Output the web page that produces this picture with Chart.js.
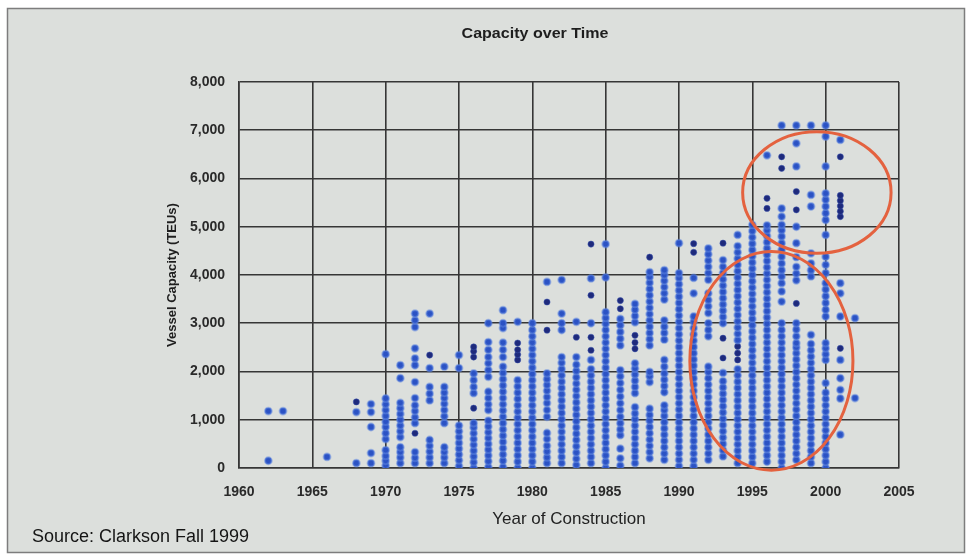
<!DOCTYPE html>
<html><head><meta charset="utf-8">
<script src="https://cdn.jsdelivr.net/npm/chart.js@4"></script>
<style>html,body{margin:0;padding:0;background:#fff;}canvas{display:block}</style>
</head><body>
<canvas id="c" width="973" height="558"></canvas>
<script>
// ---- Data: vessel capacity (TEU) by year of construction ----
const cap1962 = [150, 1180];
const cap1963 = [1180];
const cap1966 = [230];
const cap1968 = [100, 1160];
const cap1969 = [100, 310, 850, 1160, 1325];
const cap1970 = [50, 150, 250, 370, 600, 720, 850, 960, 1080, 1200, 1320, 1440, 2360];
const cap1971 = [100, 220, 330, 430, 640, 760, 880, 1000, 1120, 1240, 1350, 1860, 2130];
const cap1972 = [100, 210, 330, 930, 1050, 1180, 1300, 1450, 1780, 2130, 2270, 2480, 2920, 3060, 3200];
const cap1973 = [100, 220, 340, 460, 580, 1400, 1540, 1680, 2070, 3200];
const cap1974 = [100, 220, 330, 430, 930, 1070, 1200, 1330, 1450, 1560, 1680, 2100];
const cap1975 = [40, 160, 280, 400, 520, 640, 760, 880, 2070, 2340];
const cap1976 = [0, 120, 240, 360, 480, 600, 720, 840, 930, 1550, 1680, 1820, 1960];
const cap1977 = [20, 140, 260, 380, 500, 620, 740, 860, 980, 1200, 1320, 1450, 1580, 1890, 2030, 2170, 2300, 2450, 2610, 3000];
const cap1978 = [20, 150, 280, 410, 540, 670, 800, 930, 1060, 1190, 1320, 1450, 1580, 1710, 1840, 1970, 2100, 2300, 2450, 2600, 2900, 3000, 3270];
const cap1979 = [0, 130, 260, 390, 520, 650, 780, 910, 1040, 1170, 1300, 1430, 1560, 1690, 1820, 3030];
const cap1980 = [0, 130, 260, 390, 520, 650, 780, 910, 1040, 1170, 1300, 1430, 1560, 1690, 1820, 1950, 2080, 2210, 2340, 2470, 2600, 2730, 2860, 3000];
const cap1981 = [100, 220, 340, 460, 600, 725, 1060, 1200, 1345, 1470, 1600, 1720, 1840, 1960, 3856];
const cap1982 = [100, 230, 360, 490, 620, 750, 880, 1010, 1140, 1270, 1400, 1530, 1660, 1790, 1920, 2050, 2180, 2300, 2860, 3000, 3200, 3900];
const cap1983 = [60, 190, 320, 450, 580, 710, 840, 970, 1100, 1230, 1360, 1490, 1620, 1750, 1880, 2010, 2140, 2300, 3030];
const cap1984 = [100, 230, 360, 490, 620, 750, 880, 1010, 1140, 1270, 1400, 1530, 1660, 1790, 1920, 2050, 2240, 3000, 3930];
const cap1985 = [0, 130, 260, 390, 520, 650, 780, 910, 1040, 1170, 1300, 1430, 1560, 1690, 1820, 1950, 2080, 2210, 2340, 2470, 2600, 2730, 2860, 2990, 3110, 3230, 3950, 4640];
const cap1986 = [50, 200, 400, 680, 800, 930, 1060, 1200, 1340, 1480, 1620, 1760, 1900, 2030, 2540, 2680, 2820, 2960, 3090];
const cap1987 = [100, 230, 360, 490, 620, 750, 880, 1010, 1130, 1260, 1550, 1680, 1810, 1940, 2060, 2170, 3020, 3150, 3280, 3400];
const cap1988 = [200, 330, 460, 590, 720, 850, 980, 1100, 1230, 1780, 1900, 1990, 2540, 2670, 2800, 2930, 3060, 3190, 3320, 3450, 3580, 3710, 3840, 3960, 4060];
const cap1989 = [170, 300, 430, 560, 690, 820, 950, 1080, 1200, 1300, 1570, 1700, 1830, 1960, 2100, 2240, 2660, 2800, 2930, 3060, 3490, 3620, 3750, 3880, 4000, 4100];
const cap1990 = [40, 170, 300, 430, 560, 690, 820, 950, 1080, 1210, 1340, 1470, 1600, 1730, 1860, 1990, 2120, 2250, 2380, 2510, 2640, 2770, 2900, 3030, 3160, 3290, 3420, 3550, 3680, 3810, 3940, 4040, 4660];
const cap1991 = [40, 170, 300, 430, 560, 690, 820, 950, 1080, 1210, 1340, 1470, 1600, 1730, 1860, 1990, 2120, 2250, 2380, 2510, 2640, 2770, 2900, 3030, 3140, 3620, 3940];
const cap1992 = [170, 300, 430, 560, 690, 820, 950, 1080, 1210, 1340, 1470, 1600, 1730, 1860, 1990, 2100, 2730, 2860, 3000, 3210, 3350, 3480, 3620, 3900, 4040, 4170, 4300, 4430, 4550];
const cap1993 = [240, 370, 500, 630, 760, 890, 1020, 1150, 1280, 1410, 1540, 1670, 1800, 1970, 3000, 3130, 3260, 3390, 3520, 3650, 3780, 3910, 4040, 4170, 4310];
const cap1994 = [100, 230, 360, 490, 620, 750, 880, 1010, 1140, 1270, 1400, 1530, 1660, 1790, 1920, 2050, 2650, 2780, 2910, 3040, 3170, 3300, 3430, 3560, 3690, 3820, 3950, 4080, 4210, 4340, 4470, 4600, 4830];
const cap1995 = [100, 230, 360, 490, 620, 750, 880, 1010, 1140, 1270, 1400, 1530, 1660, 1790, 1920, 2050, 2180, 2310, 2440, 2570, 2700, 2830, 2960, 3090, 3220, 3350, 3480, 3610, 3740, 3870, 4000, 4130, 4260, 4390, 4520, 4650, 4780, 4910, 5040];
const cap1996 = [130, 260, 390, 520, 650, 780, 910, 1040, 1170, 1300, 1430, 1560, 1690, 1820, 1950, 2080, 2210, 2340, 2470, 2600, 2730, 2860, 2990, 3120, 3250, 3380, 3510, 3640, 3770, 3900, 4030, 4160, 4290, 4420, 4550, 4680, 4810, 4930, 5030, 6480];
const cap1997 = [0, 130, 260, 390, 520, 650, 780, 910, 1040, 1170, 1300, 1430, 1560, 1690, 1820, 1950, 2080, 2210, 2340, 2470, 2600, 2730, 2860, 3000, 3450, 3660, 3830, 3970, 4100, 4240, 4380, 4520, 4660, 4800, 4930, 5040, 5210, 5380, 7100];
const cap1998 = [170, 300, 430, 560, 690, 820, 950, 1080, 1210, 1340, 1470, 1600, 1730, 1860, 1990, 2120, 2250, 2380, 2500, 2590, 2730, 2870, 3000, 3890, 4030, 4170, 4370, 4660, 5000, 6250, 6730, 7100];
const cap1999 = [100, 230, 360, 490, 620, 750, 880, 1010, 1140, 1270, 1400, 1530, 1660, 1790, 1920, 2050, 2180, 2310, 2440, 2570, 2760, 3970, 4100, 4240, 4450, 5420, 5660, 7100];
const cap2000 = [0, 130, 260, 390, 520, 650, 780, 910, 1040, 1170, 1300, 1430, 1560, 1760, 2240, 2360, 2480, 2590, 3140, 3280, 3420, 3560, 3700, 3830, 4040, 4210, 4380, 4830, 5140, 5280, 5420, 5560, 5690, 6250, 6870, 7100];
const cap2001 = [690, 1440, 1620, 1860, 2240, 3140, 3620, 3830, 6800];
const cap2002 = [1450, 3105];

const years = [1962, 1963, 1966, 1968, 1969, 1970, 1971, 1972, 1973, 1974, 1975, 1976, 1977, 1978, 1979, 1980, 1981, 1982, 1983, 1984, 1985, 1986, 1987, 1988, 1989, 1990, 1991, 1992, 1993, 1994, 1995, 1996, 1997, 1998, 1999, 2000, 2001, 2002];
const capacities = [cap1962, cap1963, cap1966, cap1968, cap1969, cap1970, cap1971, cap1972, cap1973, cap1974, cap1975, cap1976, cap1977, cap1978, cap1979, cap1980, cap1981, cap1982, cap1983, cap1984, cap1985, cap1986, cap1987, cap1988, cap1989, cap1990, cap1991, cap1992, cap1993, cap1994, cap1995, cap1996, cap1997, cap1998, cap1999, cap2000, cap2001, cap2002];

// darker (overlapping) markers
const darkYears = [1968, 1972, 1973, 1976, 1976, 1976, 1976, 1979, 1979, 1979, 1979, 1981, 1981, 1983, 1984, 1984, 1984, 1984, 1986, 1986, 1987, 1987, 1987, 1988, 1991, 1991, 1993, 1993, 1993, 1994, 1994, 1994, 1996, 1996, 1997, 1997, 1998, 1998, 1998, 2001, 2001, 2001, 2001, 2001, 2001, 2001];
const darkCaps  = [1370, 720, 2340, 1240, 2300, 2420, 2510, 2240, 2350, 2450, 2590, 2857, 3440, 2710, 2440, 2710, 3580, 4640, 3300, 3470, 2470, 2600, 2750, 4370, 4470, 4650, 2280, 2690, 4660, 2240, 2380, 2520, 5380, 5590, 6210, 6450, 3410, 5350, 5730, 2480, 5210, 5320, 5430, 5540, 5650, 6450];

// highlight ellipses (data coordinates)
const ellipseYears    = [1999.4, 1996.3];
const ellipseCaps     = [5710, 2220];
const ellipseHalfYrs  = [5.06, 5.56];
const ellipseHalfCaps = [1260, 2265];

const xTicks = [1960, 1965, 1970, 1975, 1980, 1985, 1990, 1995, 2000, 2005];
const yTicks = [0, 1000, 2000, 3000, 4000, 5000, 6000, 7000, 8000];

const chartTitle = 'Capacity over Time';
const sourceNote = 'Source: Clarkson Fall 1999';

// ---- build datasets ----
const mainPoints = [];
years.forEach((yr, i) => capacities[i].forEach(v => mainPoints.push({x: yr, y: v})));
const darkPoints = darkYears.map((yr, i) => ({x: yr, y: darkCaps[i]}));

const FONT = "'Liberation Sans', Arial, Helvetica, sans-serif";
Chart.defaults.font.family = FONT;

const framePlugin = {
  id: 'frame',
  beforeDraw(chart) {
    const ctx = chart.ctx;
    ctx.save();
    ctx.fillStyle = '#ffffff';
    ctx.fillRect(0, 0, chart.width, chart.height);
    ctx.fillStyle = '#dcdfdc';
    ctx.fillRect(7, 8, 958, 545);
    ctx.strokeStyle = '#7d7d7d';
    ctx.lineWidth = 1.5;
    ctx.strokeRect(7.5, 8.5, 957, 544);
    ctx.fillStyle = '#1e1e1e';
    ctx.font = "bold 15px " + FONT;
    ctx.textAlign = 'center';
    ctx.textBaseline = 'middle';
    ctx.save();
    ctx.translate(535, 34);
    ctx.scale(1.07, 1);
    ctx.fillText(chartTitle, 0, 0);
    ctx.restore();
    ctx.font = "18px " + FONT;
    ctx.textAlign = 'left';
    ctx.fillStyle = '#151515';
    ctx.fillText(sourceNote, 32, 537);
    ctx.restore();
  }
};

const ellipsePlugin = {
  id: 'ellipses',
  afterDatasetsDraw(chart) {
    const {x, y} = chart.scales;
    const ctx = chart.ctx;
    ctx.save();
    ctx.strokeStyle = '#e4623f';
    ctx.lineWidth = 3;
    ellipseYears.forEach((yr, i) => {
      const cx = x.getPixelForValue(yr);
      const cy = y.getPixelForValue(ellipseCaps[i]);
      const rx = Math.abs(x.getPixelForValue(yr + ellipseHalfYrs[i]) - cx);
      const ry = Math.abs(y.getPixelForValue(ellipseCaps[i] + ellipseHalfCaps[i]) - cy);
      ctx.beginPath();
      ctx.ellipse(cx, cy, rx, ry, 0, 0, Math.PI * 2);
      ctx.stroke();
    });
    ctx.restore();
  }
};

const gridColor = '#363636';

new Chart(document.getElementById('c'), {
  type: 'scatter',
  data: {
    datasets: [
      { label: 'Vessels', data: mainPoints, backgroundColor: '#2b52c4', borderColor: 'rgba(95,135,225,0.5)', borderWidth: 2, pointRadius: 3.4, pointHoverRadius: 3.4 },
      { label: 'Vessels (overlapping)', data: darkPoints, backgroundColor: '#1e2a7c', borderColor: 'rgba(60,85,175,0.5)', borderWidth: 1, pointRadius: 3.1, pointHoverRadius: 3.1 }
    ]
  },
  options: {
    responsive: false,
    animation: false,
    events: [],
    layout: { padding: { left: 158, right: 74, top: 82, bottom: 0 } },
    plugins: { legend: { display: false }, tooltip: { enabled: false }, title: { display: false } },
    scales: {
      x: {
        type: 'linear', min: xTicks[0], max: xTicks[xTicks.length - 1],
        afterBuildTicks: (axis) => { axis.ticks = xTicks.map(v => ({value: v})); },
        afterFit: (axis) => { axis.height = 90; },
        grid: { color: gridColor, lineWidth: 1.6, drawTicks: false },
        border: { display: true, color: gridColor, width: 1.6 },
        ticks: { padding: 16, color: '#2a2a2a', font: { size: 14, weight: 'bold' }, callback: (v) => String(v), maxRotation: 0 },
        title: { display: true, text: 'Year of Construction', color: '#222', font: { size: 17 }, padding: { top: 0, bottom: 28 } }
      },
      y: {
        type: 'linear', min: yTicks[0], max: yTicks[yTicks.length - 1],
        afterBuildTicks: (axis) => { axis.ticks = yTicks.map(v => ({value: v})); },
        afterFit: (axis) => { axis.width = 81; },
        grid: { color: gridColor, lineWidth: 1.6, drawTicks: false },
        border: { display: true, color: gridColor, width: 1.6 },
        ticks: { padding: 14, color: '#2a2a2a', font: { size: 14, weight: 'bold' }, callback: (v) => v.toLocaleString('en-US') },
        title: { display: true, text: 'Vessel Capacity (TEUs)', color: '#1e1e1e', font: { size: 13, weight: 'bold' }, padding: { top: 7, bottom: 0 } }
      }
    }
  },
  plugins: [framePlugin, ellipsePlugin]
});
</script>
</body></html>
